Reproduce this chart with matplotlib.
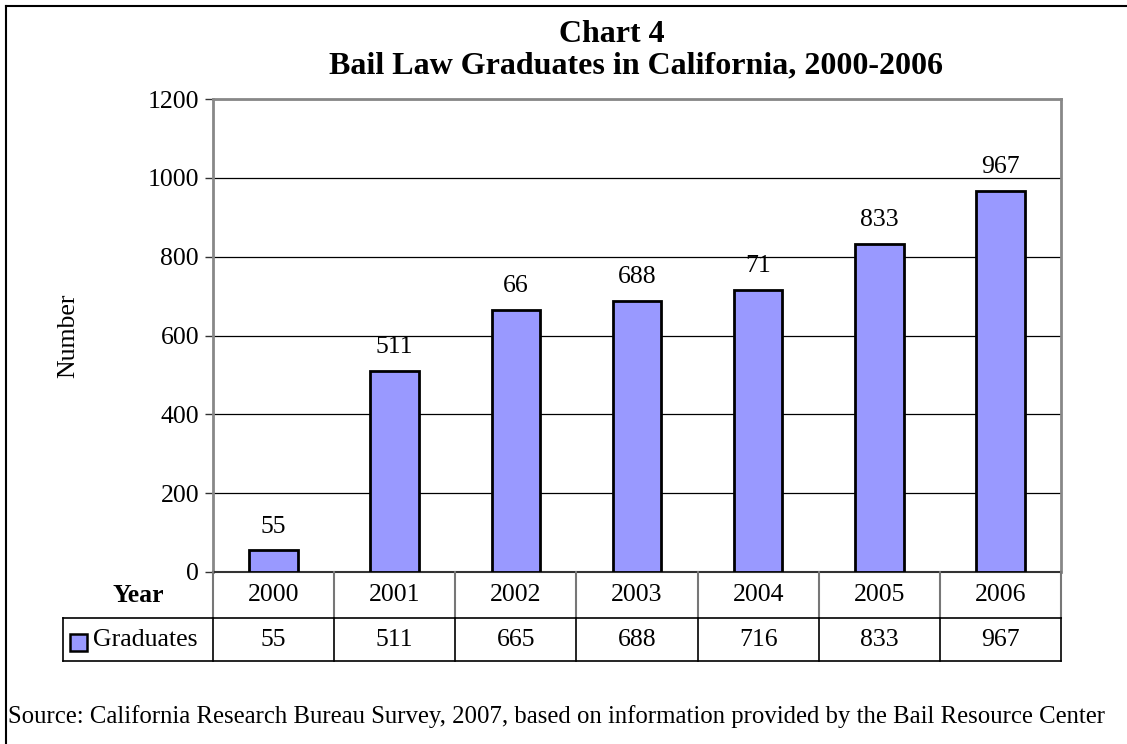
import matplotlib
matplotlib.use("Agg")
import matplotlib.pyplot as plt
from matplotlib.lines import Line2D
from matplotlib.patches import Rectangle
import matplotlib.transforms as mtransforms

# -------------------------------------------------
# Data
# -------------------------------------------------
years = ["2000", "2001", "2002", "2003", "2004", "2005", "2006"]
graduates = [55, 511, 665, 688, 716, 833, 967]
bar_labels = ["55", "511", "66", "688", "71", "833", "967"]   # as printed on the chart
y_ticks = [0, 200, 400, 600, 800, 1000, 1200]

W, H = 1127, 744
plt.rcParams['font.family'] = ['Liberation Serif', 'DejaVu Serif']
FS = 18.5

fig = plt.figure(figsize=(W / 100, H / 100), dpi=100)


def fx(px):
    return px / W


def fy(py):
    return 1 - py / H


# plot area in pixels
left, right, top, base = 213, 1061, 99, 572
ax = fig.add_axes([fx(left), fy(base), fx(right - left), (base - top) / H])

bar_color = "#9999FF"
ax.bar(range(len(years)), graduates, width=0.4, color=bar_color,
       edgecolor="black", linewidth=2, zorder=3)
for i, (v, lab) in enumerate(zip(graduates, bar_labels)):
    ax.annotate(lab, (i, v), xytext=(0, 9), textcoords="offset points",
                ha="center", va="bottom", fontsize=FS)

ax.set_xlim(-0.5, len(years) - 0.5)
ax.set_ylim(0, 1200)
ax.set_yticks(y_ticks)
ax.set_yticklabels([str(t) for t in y_ticks], fontsize=FS)
ax.set_xticks([])
ax.tick_params(axis="y", length=6, width=1, color="#333333", pad=4)
ax.yaxis.grid(True, color="black", linewidth=0.9)
ax.set_axisbelow(True)
for s in ["top", "right", "left"]:
    ax.spines[s].set_color("#888888")
    ax.spines[s].set_linewidth(2)
ax.spines["bottom"].set_color("#333333")
ax.spines["bottom"].set_linewidth(1.5)
fig.text(fx(68), fy((top + base) / 2), "Number", rotation=90,
         ha="center", va="center", fontsize=FS)

# -------------------------------------------------
# Data table under the chart
# -------------------------------------------------
trans = mtransforms.blended_transform_factory(ax.transData, fig.transFigure)
row1_top, row1_bot, row2_bot = 572, 618, 661
tab_left = 63

for i in range(len(years) + 1):
    xe = i - 0.5
    fig.add_artist(Line2D([xe, xe], [fy(row1_top), fy(row1_bot)], transform=trans,
                          color="#777777", linewidth=1.5))
    fig.add_artist(Line2D([xe, xe], [fy(row1_bot), fy(row2_bot)], transform=trans,
                          color="black", linewidth=1.2))
# horizontal lines
fig.add_artist(Line2D([fx(tab_left), fx(right)], [fy(row1_bot), fy(row1_bot)],
                      color="black", linewidth=1.2))
fig.add_artist(Line2D([fx(tab_left), fx(right)], [fy(row2_bot), fy(row2_bot)],
                      color="black", linewidth=1.2))
fig.add_artist(Line2D([fx(tab_left), fx(tab_left)], [fy(row1_bot), fy(row2_bot)],
                      color="black", linewidth=1.2))

for i, (yr, v) in enumerate(zip(years, graduates)):
    fig.text(i, fy((row1_top + row1_bot) / 2), yr, transform=trans,
             ha="center", va="center", fontsize=FS)
    fig.text(i, fy((row1_bot + row2_bot) / 2), str(v), transform=trans,
             ha="center", va="center", fontsize=FS)

fig.text(fx(164), fy((row1_top + row1_bot) / 2), "Year", ha="right", va="center",
         fontsize=FS, fontweight="bold")
fig.add_artist(Rectangle((fx(70), fy(651)), fx(17), 17 / H, facecolor=bar_color,
                         edgecolor="black", linewidth=1.8))
fig.text(fx(93), fy((row1_bot + row2_bot) / 2), "Graduates", ha="left", va="center",
         fontsize=FS)

# -------------------------------------------------
# Titles, source, frame
# -------------------------------------------------
fig.text(fx(612), fy(35), "Chart 4", ha="center", va="center",
         fontsize=23, fontweight="bold")
fig.text(fx(636), fy(66), "Bail Law Graduates in California, 2000-2006",
         ha="center", va="center", fontsize=23, fontweight="bold")
fig.text(fx(8), fy(717), "Source: California Research Bureau Survey, 2007, based on "
         "information provided by the Bail Resource Center",
         ha="left", va="center", fontsize=17.85)

fig.add_artist(Line2D([fx(6), 1], [fy(6), fy(6)], color="black", linewidth=1.5))
fig.add_artist(Line2D([fx(6), fx(6)], [fy(6), 0], color="black", linewidth=1.5))

fig.savefig("out.png", dpi=100)
